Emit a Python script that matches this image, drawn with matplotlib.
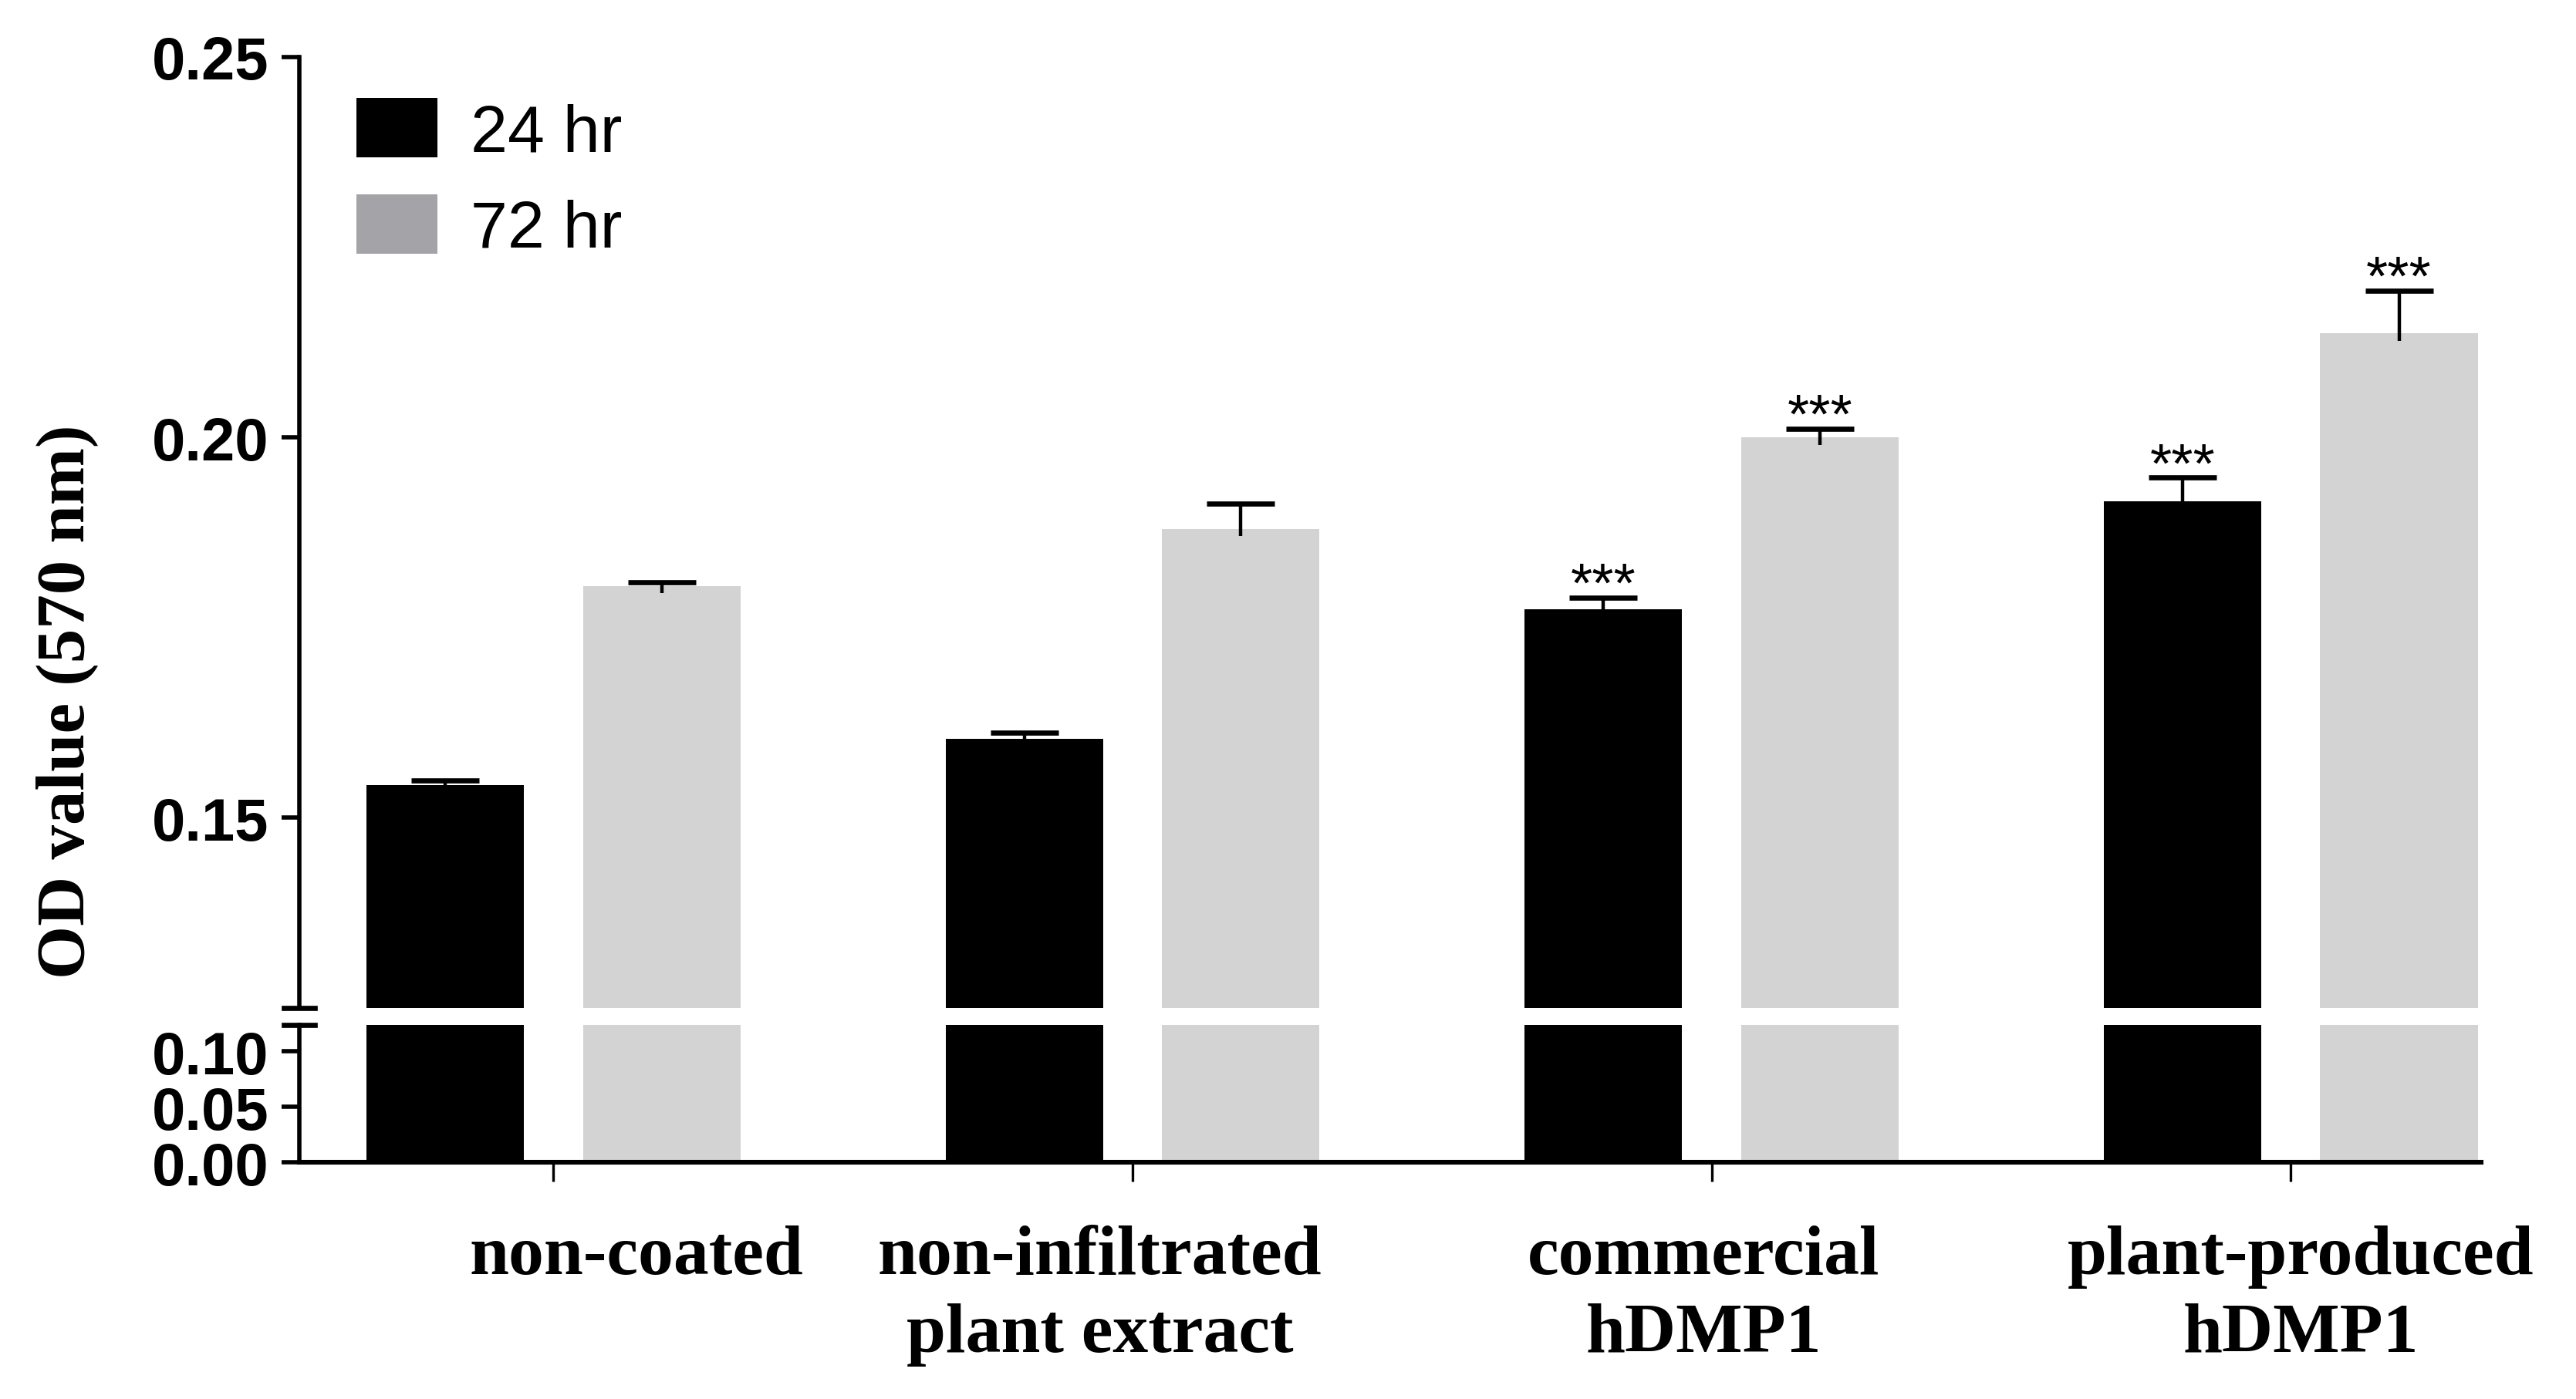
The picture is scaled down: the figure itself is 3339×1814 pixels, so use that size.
import numpy as np
import matplotlib
matplotlib.use('Agg')
import matplotlib.pyplot as plt
import matplotlib.transforms as mtransforms
from matplotlib.patches import Patch

# data
groups = ['non-coated', 'non-infiltrated\nplant extract', 'commercial\nhDMP1', 'plant-produced\nhDMP1']
od_24 = [0.1543, 0.1604, 0.1774, 0.1916]
err_24 = [0.0006, 0.0008, 0.0015, 0.0031]
od_72 = [0.1805, 0.1880, 0.2000, 0.2137]
err_72 = [0.0005, 0.0033, 0.0011, 0.0056]
sig_24 = ['', '', '***', '***']
sig_72 = ['', '', '***', '***']
series = ['24 hr', '72 hr']

c24 = 'black'
c72 = '#d3d3d3'
c72_leg = '#a3a3a8'

x = np.arange(len(groups))
w = 0.272
off = 0.187
stem_in = 0.001  # error stem pokes a little into the bar, as in GraphPad

fig = plt.figure(figsize=(16.695, 9.075), dpi=200)
ax_top = fig.add_axes([0.1162, 0.2793, 0.847, 0.6794])
ax_bot = fig.add_axes([0.1162, 0.1691, 0.847, 0.0981])

for ax in (ax_top, ax_bot):
    ax.bar(x - off, od_24, w, color=c24, zorder=2)
    ax.bar(x + off, od_72, w, color=c72, zorder=2)
    ax.set_xlim(-0.439, 3.329)
    ax.spines['top'].set_visible(False)
    ax.spines['right'].set_visible(False)
    ax.spines['left'].set_linewidth(2)
    ax.tick_params(axis='y', length=8.3, width=2, pad=6)

# upper part
ax_top.set_ylim(0.125, 0.25)
ax_top.set_yticks([0.15, 0.20, 0.25])
ax_top.set_yticklabels(['0.15', '0.20', '0.25'])
ax_top.spines['bottom'].set_visible(False)
ax_top.set_xticks([])

for xs, vals, errs, sigs in [(x - off, od_24, err_24, sig_24), (x + off, od_72, err_72, sig_72)]:
    low = np.full(len(xs), stem_in)
    eb = ax_top.errorbar(xs, vals, yerr=[low, errs], fmt='none', ecolor='black',
                         elinewidth=1.6, capsize=16, capthick=2.4, zorder=3)
    eb[1][0].set_visible(False)  # no lower cap
    for xi, v, e, s in zip(xs, vals, errs, sigs):
        if s:
            ax_top.annotate(s, (xi, v + e), xytext=(0, 5), textcoords='offset points',
                            ha='center', va='center', fontsize=26, family='Liberation Sans')

# lower part
ax_bot.set_ylim(0, 0.124)
ax_bot.set_yticks([0.0, 0.05, 0.10])
ax_bot.set_yticklabels(['0.00', '0.05', '0.10'])
ax_bot.spines['bottom'].set_linewidth(2.2)
ax_bot.set_xticks(x)
ax_bot.set_xticklabels(groups)
ax_bot.tick_params(axis='x', length=9, width=1.2, pad=20)

for ax in (ax_top, ax_bot):
    for lab in ax.get_yticklabels():
        lab.set_family('Liberation Sans')
        lab.set_fontweight('bold')
        lab.set_fontsize(28)

shifts = [0.535, -0.213, -0.053, 0.064]
for lab, dx in zip(ax_bot.get_xticklabels(), shifts):
    lab.set_family('Liberation Serif')
    lab.set_fontweight('bold')
    lab.set_fontsize(33)
    lab.set_linespacing(1.3)
    lab.set_transform(lab.get_transform() + mtransforms.ScaledTranslation(dx, 0, fig.dpi_scale_trans))

# break marks
d = 20 / 2828
ax_top.plot([-d, d], [0, 0], transform=ax_top.transAxes, color='black', lw=2.4, clip_on=False)
ax_bot.plot([-d, d], [1, 1], transform=ax_bot.transAxes, color='black', lw=2.4, clip_on=False)

handles = [Patch(facecolor=c24, linewidth=0), Patch(facecolor=c72_leg, linewidth=0)]
ax_top.legend(handles, series, loc='upper left', bbox_to_anchor=(0.026, 0.957),
              frameon=False, prop={'family': 'Liberation Sans', 'size': 31},
              handlelength=1.23, handleheight=1.0, handletextpad=0.5,
              labelspacing=0.45, borderpad=0, borderaxespad=0)

fig.text(0.026, 0.499, 'OD value (570 nm)', rotation=90, va='center', ha='center',
         family='Liberation Serif', fontweight='bold', fontsize=32)

fig.savefig('out.png', dpi=200)
